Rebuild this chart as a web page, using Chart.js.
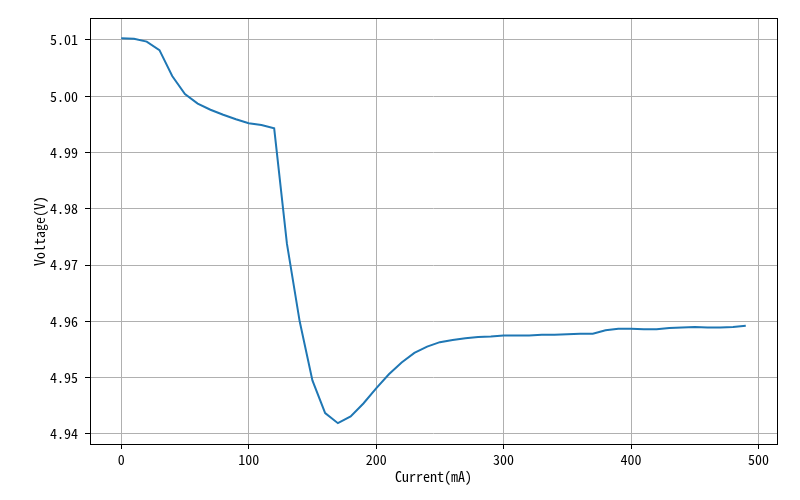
<!DOCTYPE html>
<html>
<head>
<meta charset="utf-8">
<script src="https://cdn.jsdelivr.net/npm/chart.js@4/dist/chart.umd.min.js"></script>
<style>
html,body{margin:0;padding:0;background:#fff;}
#wrap{width:800px;height:500px;}
</style>
</head>
<body>
<div id="wrap"><canvas id="c" width="800" height="500"></canvas></div>
<script>
const currents = [0,10,20,30,40,50,60,70,80,90,100,110,120,130,140,150,160,170,180,190,200,210,220,230,240,250,260,270,280,290,300,310,320,330,340,350,360,370,380,390,400,410,420,430,440,450,460,470,480,490];
const voltages = [5.0103,5.0102,5.0097,5.0082,5.0036,5.0004,4.9987,4.9976,4.9967,4.9959,4.9952,4.9949,4.9943,4.9738,4.9600,4.9495,4.9437,4.9419,4.9431,4.9454,4.9481,4.9506,4.9527,4.9544,4.9555,4.9563,4.9567,4.9570,4.9572,4.9573,4.9575,4.9575,4.9575,4.9576,4.9576,4.9577,4.9578,4.9578,4.9584,4.9587,4.9587,4.9586,4.9586,4.9588,4.9589,4.9590,4.9589,4.9589,4.9590,4.9592];
const xTicks = [0,100,200,300,400,500];
const yTicks = [4.94,4.95,4.96,4.97,4.98,4.99,5.00,5.01];

const FONT = '"Noto Sans Mono CJK SC","Noto Sans CJK SC","DejaVu Sans Mono",monospace';

const framePlugin = {
  id: 'frame',
  afterDraw(chart) {
    const a = chart.chartArea, ctx = chart.ctx;
    ctx.save();
    ctx.strokeStyle = '#000';
    ctx.lineWidth = 1;
    ctx.strokeRect(Math.round(a.left)+0.5, Math.round(a.top)+0.5, Math.round(a.right-a.left), Math.round(a.bottom-a.top));
    ctx.restore();
  }
};

new Chart(document.getElementById('c'), {
  type: 'line',
  data: {
    datasets: [{
      data: currents.map((x,i)=>({x:x, y:voltages[i]})),
      borderColor: '#1f77b4',
      borderWidth: 2,
      pointRadius: 0,
      fill: false,
      tension: 0
    }]
  },
  options: {
    responsive: false,
    animation: false,
    devicePixelRatio: 1,
    layout: { padding: { left: 0, right: 23, top: 18, bottom: 0 } },
    plugins: { legend: { display: false }, tooltip: { enabled: false } },
    scales: {
      x: {
        type: 'linear',
        min: -24.5,
        max: 514.5,
        afterBuildTicks(s) { s.ticks = xTicks.map(v=>({value:v})); },
        afterFit(s) { s.height = 56; },
        grid: { color: '#b0b0b0', lineWidth: 1, tickColor: '#000', tickLength: 5 },
        border: { display: false },
        ticks: { color: '#000', padding: 2, maxRotation: 0, font: { family: FONT, size: 14 }, callback: v => String(v) },
        title: { display: true, text: 'Current(mA)', color: '#000', font: { family: FONT, size: 14 }, padding: { top: 0, bottom: 15 } }
      },
      y: {
        type: 'linear',
        min: 4.9382,
        max: 5.0139,
        afterBuildTicks(s) { s.ticks = yTicks.map(v=>({value:v})); },
        afterFit(s) { s.width = 90; },
        grid: { color: '#b0b0b0', lineWidth: 1, tickColor: '#000', tickLength: 5 },
        border: { display: false },
        ticks: { color: '#000', padding: 7, font: { family: FONT, size: 14 }, callback: v => v.toFixed(2) },
        title: { display: true, text: 'Voltage(V)', color: '#000', font: { family: FONT, size: 14 }, padding: { top: 31, bottom: 0 } }
      }
    }
  },
  plugins: [framePlugin]
});
</script>
</body>
</html>
